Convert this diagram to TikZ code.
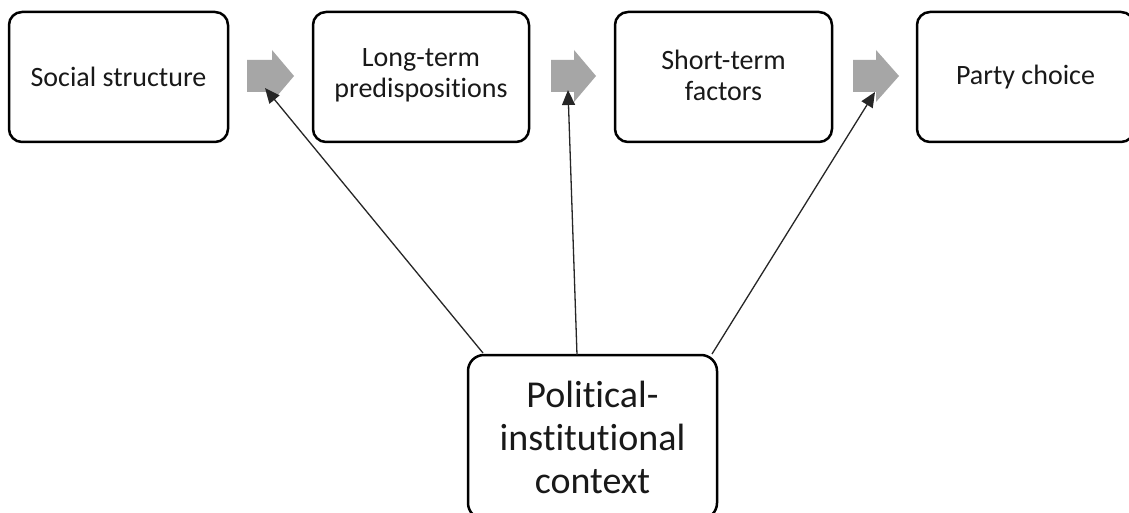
\documentclass[tikz,border=0pt]{standalone}
\usepackage{fontspec}
\setmainfont[Ligatures={NoCommon}]{Carlito}
\usetikzlibrary{arrows.meta}
\definecolor{flowgray}{RGB}{166,166,166}
\definecolor{txt}{RGB}{25,25,25}
\tikzset{
  topbox/.style={draw=black, line width=2.5pt, rounded corners=13pt, minimum height=130pt,
    align=center, text=txt, font=\fontsize{28}{31}\selectfont, inner sep=0pt},
  ctxbox/.style={draw=black, line width=2.5pt, rounded corners=16pt, minimum width=249pt,
    minimum height=164pt, align=center, text=txt, font=\fontsize{38}{43}\selectfont, inner sep=0pt},
  flow/.style={fill=flowgray, draw=none},
  link/.style={line width=1.3pt, draw=black!85, -{Triangle[length=15pt,width=13pt]}}
}
\begin{document}
\begin{tikzpicture}[x=1pt,y=-1pt]
\useasboundingbox (0,0) rectangle (1129,513);
\clip (0,0) rectangle (1129,513);
\fill[white] (0,0) rectangle (1129,513);
% top boxes
\node[topbox, minimum width=219pt] (social) at (118.5,77) {Social structure};
\node[topbox, minimum width=216pt] (long) at (421,77) {};
\node[align=center, text=txt, font=\fontsize{28}{31}\selectfont, inner sep=0pt] (longtext) at (421,75) {Long-term\\predispositions};
\node[topbox, minimum width=217pt] (short) at (723.5,77) {};
\node[align=center, text=txt, font=\fontsize{28}{31}\selectfont, inner sep=0pt] (shorttext) at (723.5,75) {Short-term\\factors};
\node[topbox, minimum width=217pt] (party) at (1025.5,77) {Party choice};
% bottom box
\node[ctxbox] (ctx) at (592.5,437) {Political-\\institutional\\context};
% gray flow arrows
\fill[flow] (247,60) -- (272,60) -- (272,50) -- (294,76) -- (272,102) -- (272,92) -- (247,92) -- cycle;
\fill[flow] (551,60) -- (574,60) -- (574,50) -- (596,76) -- (574,102) -- (574,92) -- (551,92) -- cycle;
\fill[flow] (853,60) -- (876,60) -- (876,50) -- (899,76) -- (876,102) -- (876,92) -- (853,92) -- cycle;
% connector endpoints
\coordinate (s1) at (483,353);
\coordinate (s2) at (577,355);
\coordinate (s3) at (712,354);
\coordinate (t1) at (265,88);
\coordinate (t2) at (568,90);
\coordinate (t3) at (875,92);
\draw[link] (s1) -- (t1);
\draw[link] (s2) -- (t2);
\draw[link] (s3) -- (t3);
\end{tikzpicture}
\end{document}
